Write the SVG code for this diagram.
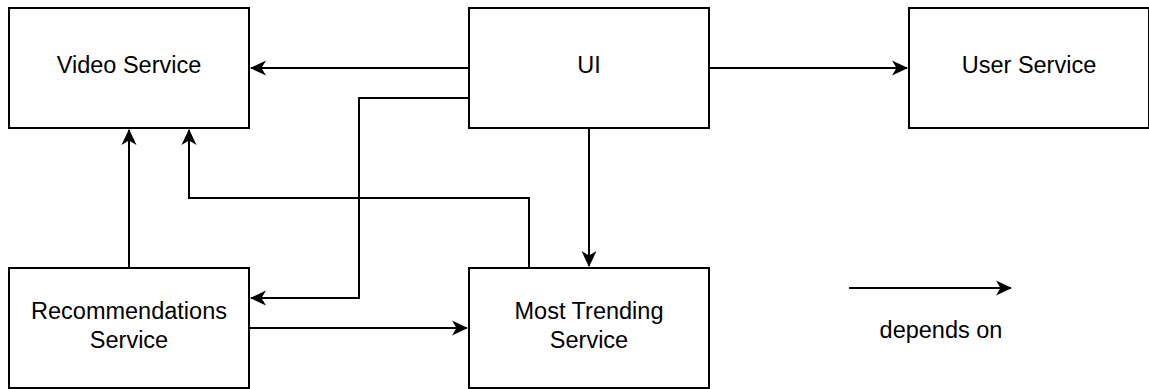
<svg xmlns="http://www.w3.org/2000/svg" width="1149" height="389" viewBox="0 0 1149 389">
<style>
.box{fill:#fff;stroke:#000;stroke-width:2}
.lbl{font-family:"Liberation Sans",Arial,sans-serif;font-size:23.5px;fill:#000;text-anchor:middle}
.edge{fill:none;stroke:#000;stroke-width:2;marker-end:url(#arr)}
</style>
<defs>
<marker id="arr" markerUnits="userSpaceOnUse" markerWidth="18" markerHeight="16" refX="15" refY="7.5" orient="auto" viewBox="0 0 18 15">
<path d="M0,0 L16,7.5 L0,15 L4.5,7.5 Z" fill="#000"/>
</marker>
</defs>
<rect width="1149" height="389" fill="#fff"/>
<g id="connectors">
<path class="edge" d="M469,68 H251"/>
<path class="edge" d="M709,68 H907"/>
<path class="edge" d="M469,98 H359 V298 H251"/>
<path class="edge" d="M589,128 V266"/>
<path class="edge" d="M529,268 V198 H189 V130"/>
<path class="edge" d="M129,268 V130"/>
<path class="edge" d="M249,328 H467"/>
<path class="edge" d="M849,288 H1011"/>
</g>
<g id="video-service"><rect class="box" x="9" y="8" width="240" height="120"/><text class="lbl" x="129" y="73">Video Service</text></g>
<g id="ui"><rect class="box" x="469" y="8" width="240" height="120"/><text class="lbl" x="589" y="73">UI</text></g>
<g id="user-service"><rect class="box" x="909" y="8" width="240" height="120"/><text class="lbl" x="1029" y="73">User Service</text></g>
<g id="recommendations-service"><rect class="box" x="9" y="268" width="240" height="120"/><text class="lbl" x="129" y="319">Recommendations</text><text class="lbl" x="129" y="348">Service</text></g>
<g id="most-trending-service"><rect class="box" x="469" y="268" width="240" height="120"/><text class="lbl" x="589" y="319">Most Trending</text><text class="lbl" x="589" y="348">Service</text></g>
<g id="legend"><text class="lbl" x="941" y="338">depends on</text></g>
</svg>
